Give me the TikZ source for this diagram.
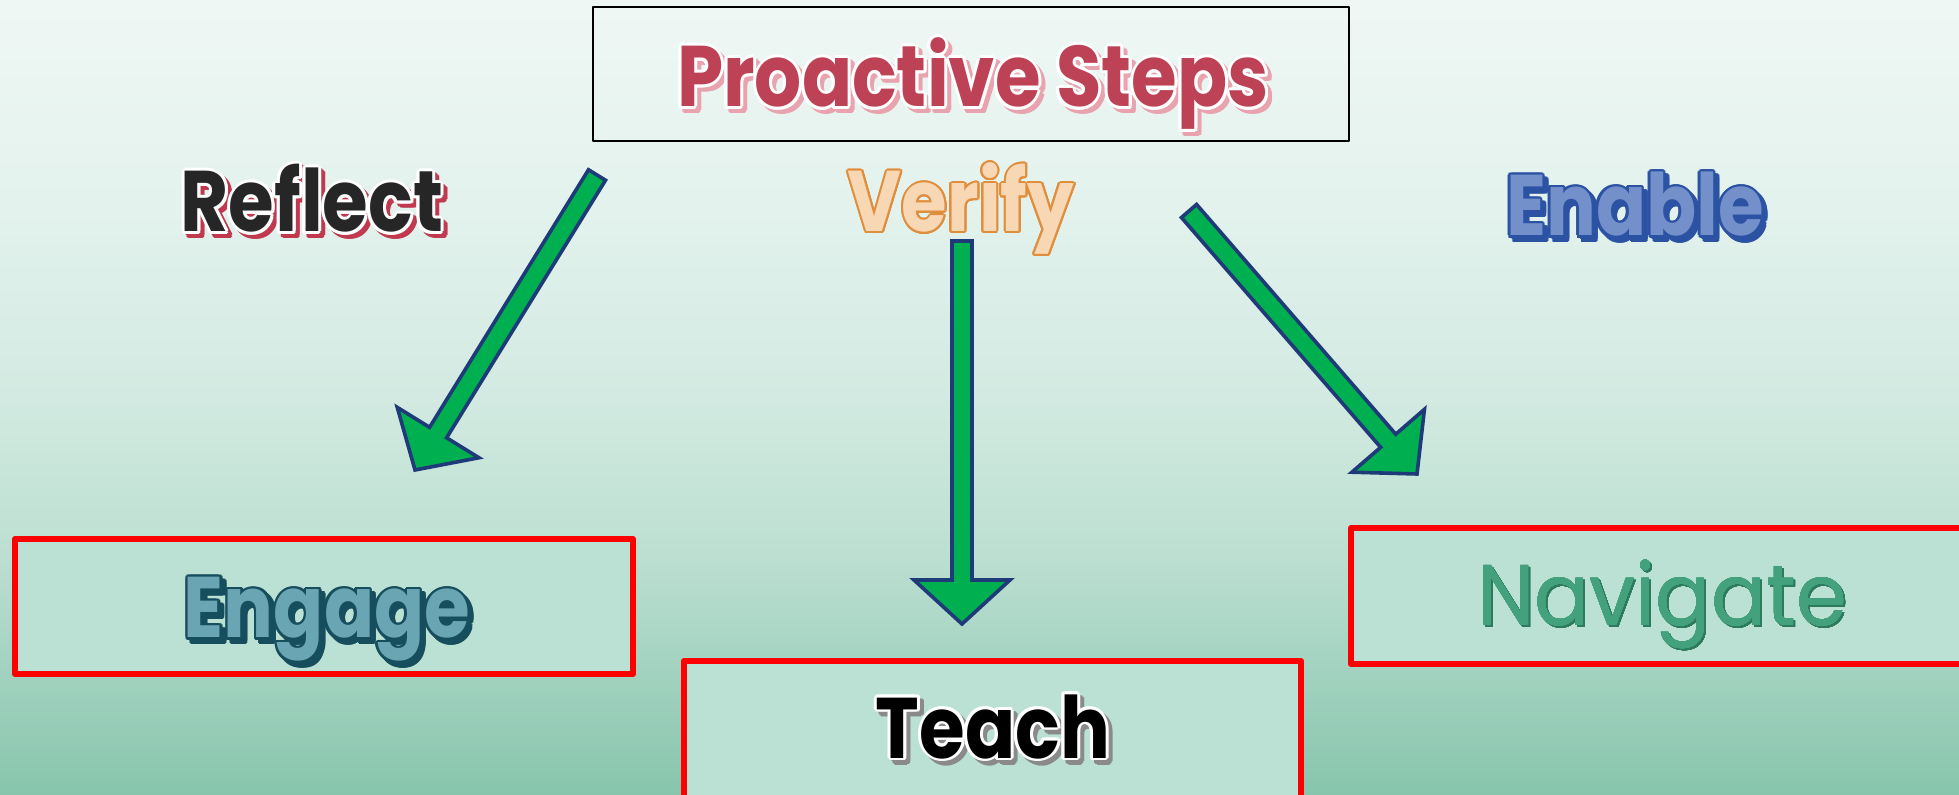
\documentclass[tikz,border=0pt]{standalone}
\usepackage{fontspec}
\setmainfont{Poppins}
\usepackage{xcolor}
\usepackage{graphicx}
\usepackage{tikz}
\usetikzlibrary{calc}
\usetikzlibrary{positioning}

\definecolor{bgTop}{HTML}{EFF7F4}
\definecolor{bgA}{HTML}{E3F2ED}
\definecolor{bgB}{HTML}{D2EAE1}
\definecolor{bgC}{HTML}{BCDFD1}
\definecolor{bgD}{HTML}{87C5AD}
\definecolor{boxfill}{HTML}{BBE1D4}
\definecolor{boxred}{HTML}{FF0000}
\definecolor{arrowgreen}{HTML}{00B050}
\definecolor{arrowblue}{HTML}{1F3A78}
\definecolor{crimson}{HTML}{BD4255}
\definecolor{pinkshade}{HTML}{E8A3AE}
\definecolor{inkgrey}{HTML}{262626}
\definecolor{redshade}{HTML}{C0394E}
\definecolor{peach}{HTML}{F8D7B5}
\definecolor{amber}{HTML}{E08E3C}
\definecolor{royal}{HTML}{2B52A3}
\definecolor{royalfill}{HTML}{7490CB}
\definecolor{teal}{HTML}{174E5D}
\definecolor{tealfill}{HTML}{6AA5B3}
\definecolor{jade}{HTML}{43A27D}
\definecolor{jadedark}{HTML}{2D7A5C}
\definecolor{greyshade}{HTML}{8A8A8A}

\pgfdeclareverticalshading{backdrop}{100bp}{color(0bp)=(bgD); color(25bp)=(bgD);
  color(40bp)=(bgC); color(50bp)=(bgB); color(62bp)=(bgA); color(75bp)=(bgTop); color(100bp)=(bgTop)}

\tikzset{word/.style={font=\fontsize{43}{50}\selectfont\bfseries, inner sep=0pt, anchor=base}}
\newcommand{\wordsquash}{0.86}

% name, base point, fill, rim colour, rim width, shadow colour, shadow shift, text
\newcommand{\fancyword}[8]{%
  \foreach \a in {0,30,...,330}
    \node[word, text=#6] at ($(#2)+(#7)+(\a:#5)$) {\scalebox{\wordsquash}[1]{#8}};
  \foreach \a in {0,30,...,330}
    \node[word, text=#4] at ($(#2)+(\a:#5)$) {\scalebox{\wordsquash}[1]{#8}};
  \node[word, text=#3] (#1) at (#2) {\scalebox{\wordsquash}[1]{#8}};
}

% tail, tip
\newcommand{\blockarrow}[2]{%
  \coordinate (#1-h) at ($(#2)!22pt!(#1)$);
  \draw[bigarrow] ($(#1)!5pt!90:(#2)$) -- ($(#1-h)!5pt!90:(#2)$) -- ($(#1-h)!24pt!90:(#2)$)
    -- (#2) -- ($(#1-h)!24pt!-90:(#2)$) -- ($(#1-h)!5pt!-90:(#2)$) -- ($(#1)!5pt!-90:(#2)$) -- cycle;
}

\begin{document}
\begin{tikzpicture}[x=0.5pt, y=-0.5pt, line join=round]
  \tikzstyle{redbox}=[draw=boxred, line width=3pt, fill=boxfill, inner sep=0pt]
  \tikzstyle{titlebox}=[draw=black, line width=1pt, inner sep=0pt]
  \tikzstyle{bigarrow}=[fill=arrowgreen, draw=arrowblue, line width=1.8pt, line join=miter]
  \useasboundingbox (0,0) rectangle (1959,795);
  \clip (0,0) rectangle (1959,795);
  \shade[shading=backdrop] (0,0) rectangle (1959,795);

  % boxes
  \node[titlebox, minimum width=378pt, minimum height=67pt] (stepsbox) at (971,74) {};
  \node[redbox, minimum width=309pt, minimum height=67.5pt] (engagebox) at (324,606.5) {};
  \node[redbox, minimum width=308.5pt, minimum height=84.5pt] (teachbox) at (992.5,745.5) {};
  \node[redbox, minimum width=324.5pt, minimum height=68pt] (navbox) at (1675.5,596) {};

  % words
  \coordinate (steps-b) at (973,107);
  \coordinate (reflect-b) at (312,232);
  \coordinate (verify-b) at (961,232);
  \coordinate (enable-b) at (1635,236);
  \coordinate (engage-b) at (327,638);
  \coordinate (nav-b) at (1662,626);
  \coordinate (teach-b) at (993,758);
  \fancyword{steps}{steps-b}{crimson}{white}{3}{pinkshade}{4,4}{Proactive Steps}
  \fancyword{reflect}{reflect-b}{inkgrey}{white}{3}{redshade}{4,4}{Reflect}
  \fancyword{verify}{verify-b}{peach}{amber}{2}{amber}{0,0}{Verify}
  \fancyword{enable}{enable-b}{royalfill}{royal}{2.5}{royal}{4,4}{Enable}
  \fancyword{engage}{engage-b}{tealfill}{teal}{2.5}{teal}{4,4}{Engage}
  \fancyword{teach}{teach-b}{black}{white}{3}{greyshade}{4,4}{Teach}
  \renewcommand{\wordsquash}{0.95}
  \fancyword{nav}{nav-b}{jade}{jade}{0}{jadedark}{2,2}{\mdseries Navigate}

  % arrows
  \coordinate (left-tail) at (597,175);
  \coordinate (left-tip) at (415,470);
  \coordinate (mid-tail) at (962,241);
  \coordinate (mid-tip) at (962,624);
  \coordinate (right-tail) at (1189,211);
  \coordinate (right-tip) at (1417,474);
  \blockarrow{left-tail}{left-tip}
  \blockarrow{mid-tail}{mid-tip}
  \blockarrow{right-tail}{right-tip}
\end{tikzpicture}
\end{document}
